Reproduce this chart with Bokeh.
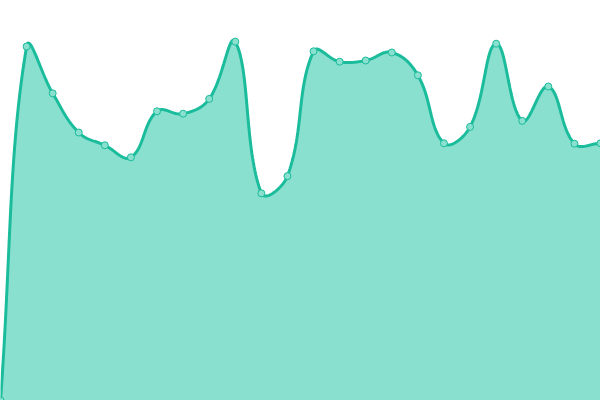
import numpy as np
from bokeh.plotting import figure
from bokeh.models import Range1d
from bokeh.embed import file_html
from bokeh.resources import INLINE

# data
labels = list(range(24))
values = [0, 88.5, 76.8, 67.0, 63.8, 60.8, 72.3, 71.7, 75.4, 89.7, 51.8, 56.1,
          87.3, 84.7, 85.0, 87.0, 81.3, 64.3, 68.4, 89.2, 69.9, 78.5, 64.2, 64.3]

W, H = 600, 400
X0, X1 = 0, 23
Y0, Y1 = 0, 100
sx = W / (X1 - X0)
sy = H / (Y1 - Y0)


def smooth(xs, ys, tension=0.4, n=40):
    # Chart.js style cubic spline, computed in screen proportions
    px = [(x - X0) * sx for x in xs]
    py = [(y - Y0) * sy for y in ys]
    N = len(px)
    cps = []
    for i in range(N):
        pi = (px[max(i - 1, 0)], py[max(i - 1, 0)])
        c = (px[i], py[i])
        ni = (px[min(i + 1, N - 1)], py[min(i + 1, N - 1)])
        d01 = np.hypot(c[0] - pi[0], c[1] - pi[1])
        d12 = np.hypot(ni[0] - c[0], ni[1] - c[1])
        s01 = d01 / (d01 + d12) if d01 + d12 else 0
        s12 = d12 / (d01 + d12) if d01 + d12 else 0
        fa, fb = tension * s01, tension * s12
        prev_cp = (c[0] - fa * (ni[0] - pi[0]), c[1] - fa * (ni[1] - pi[1]))
        next_cp = (c[0] + fb * (ni[0] - pi[0]), c[1] + fb * (ni[1] - pi[1]))
        clip = lambda p: (min(max(p[0], 0), W), min(max(p[1], 0), H))
        cps.append((clip(prev_cp), clip(next_cp)))
    ox, oy = [], []
    t = np.linspace(0, 1, n)
    for i in range(N - 1):
        p0 = np.array([px[i], py[i]])
        p1 = np.array(cps[i][1])
        p2 = np.array(cps[i + 1][0])
        p3 = np.array([px[i + 1], py[i + 1]])
        pts = ((1 - t)[:, None] ** 3 * p0 + 3 * ((1 - t) ** 2 * t)[:, None] * p1
               + 3 * ((1 - t) * t ** 2)[:, None] * p2 + (t ** 3)[:, None] * p3)
        if i > 0:
            pts = pts[1:]
        ox.extend(pts[:, 0] / sx + X0)
        oy.extend(pts[:, 1] / sy + Y0)
    return np.array(ox), np.array(oy)


cx, cy = smooth(labels, values)

p = figure(width=W, height=H, output_backend="svg", toolbar_location=None,
           x_range=Range1d(X0, X1), y_range=Range1d(Y0, Y1),
           min_border=0, min_border_left=0, min_border_right=0,
           min_border_top=0, min_border_bottom=0)
p.axis.visible = False
p.grid.visible = False
p.outline_line_color = None
p.background_fill_color = "white"
p.border_fill_color = "white"

p.varea(x=cx, y1=np.zeros_like(cy), y2=cy, fill_color="#8ae0cf", fill_alpha=1)
p.line(cx, cy, line_color="#1abc9c", line_width=3)
p.scatter(labels, values, size=7, fill_color="#8ae0cf", line_color="#1abc9c",
          line_width=1)

html = file_html(p, INLINE)
html = html.replace("<body>", '<body style="margin:0;overflow:hidden">', 1)
open("out.html", "w").write(html)
